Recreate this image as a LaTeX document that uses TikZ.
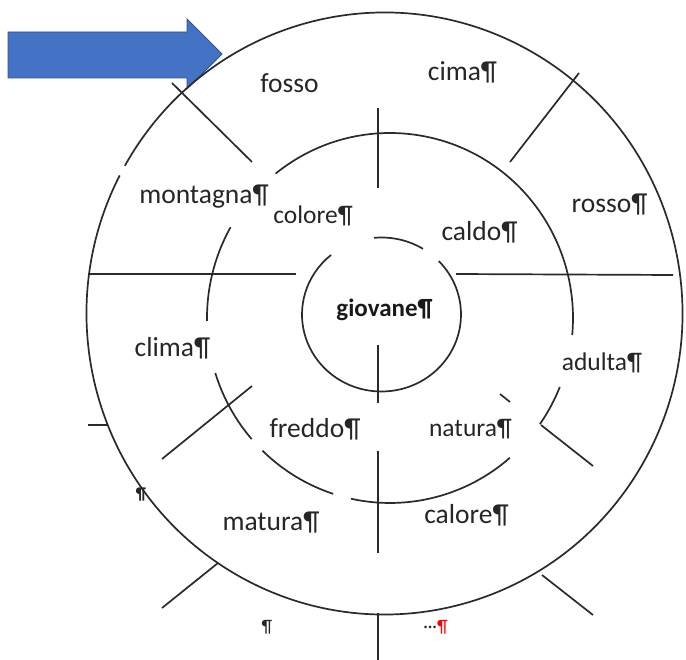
\documentclass[tikz,border=0pt]{standalone}
\usepackage{fontspec}
\setmainfont{Carlito}
\definecolor{arrowblue}{HTML}{4472C4}
\definecolor{arrowedge}{HTML}{2F528F}
\definecolor{inkline}{HTML}{2A2A2A}
\begin{document}
\begin{tikzpicture}[x=1pt,y=-1pt,
  ring/.style={draw=inkline,line width=1.7pt},
  sep/.style={draw=inkline,line width=1.7pt},
  big/.style={inner sep=0pt,anchor=base,text=black!85,font=\fontsize{27.5}{30}\selectfont},
  small/.style={inner sep=0pt,anchor=base,text=black!85,font=\fontsize{25.5}{28}\selectfont},
  centre/.style={inner sep=0pt,anchor=base,text=black!90,font=\fontsize{25}{28}\selectfont\bfseries},
  pilc/.style={inner sep=0pt,anchor=base,text=black!85,font=\fontsize{18}{20}\selectfont}]
\useasboundingbox (0,0) rectangle (686,660);
% blue block arrow
\draw[fill=arrowblue,draw=arrowedge,line width=0.8pt]
  (8,32) -- (187,32) -- (187,19) -- (222,54) -- (187,89) -- (187,78) -- (8,78) -- cycle;
% centres of the rings
\coordinate (co) at (384.5,313.5);
\coordinate (cm) at (390,318);
\coordinate (ci) at (381.5,314.5);
% outer ring (small gap upper left)
\draw[ring] (co) ++(-150.6:298 and 301) arc[start angle=-150.6,end angle=207.3,x radius=298,y radius=301];
% middle ring segments
\draw[ring] (cm) ++(-128.7:183 and 185) arc[start angle=-128.7,end angle=5.3,x radius=183,y radius=185];
\draw[ring] (cm) ++(21.9:183 and 185) arc[start angle=21.9,end angle=35,x radius=183,y radius=185];
\draw[ring] (cm) ++(49.1:183 and 185) arc[start angle=49.1,end angle=102.3,x radius=183,y radius=185];
\draw[ring] (cm) ++(108.1:183 and 185) arc[start angle=108.1,end angle=134.2,x radius=183,y radius=185];
\draw[ring] (cm) ++(139.1:183 and 185) arc[start angle=139.1,end angle=162.7,x radius=183,y radius=185];
\draw[ring] (cm) ++(179.1:183 and 185) arc[start angle=179.1,end angle=209.4,x radius=183,y radius=185];
% inner ring segments
\draw[ring] (ci) ++(-95.3:79.5 and 77) arc[start angle=-95.3,end angle=-58.5,x radius=79.5,y radius=77];
\draw[ring] (ci) ++(-43.9:79.5 and 77) arc[start angle=-43.9,end angle=230.6,x radius=79.5,y radius=77];
% separating strokes
\coordinate (a1) at (378,108); \coordinate (a2) at (378,188);
\coordinate (b1) at (579,73);  \coordinate (b2) at (510,162);
\coordinate (c1) at (172,83);  \coordinate (c2) at (252,162);
\coordinate (d1) at (88,274);  \coordinate (d2) at (296,274);
\coordinate (e1) at (456,274); \coordinate (e2) at (673,275);
\coordinate (f1) at (378,345); \coordinate (f2) at (378,403);
\coordinate (g1) at (378,451); \coordinate (g2) at (378,553);
\coordinate (h1) at (378,613); \coordinate (h2) at (378,660);
\coordinate (i1) at (252,386); \coordinate (i2) at (162,459);
\coordinate (j1) at (88,425);  \coordinate (j2) at (107,425);
\coordinate (k1) at (218,563); \coordinate (k2) at (162,608);
\coordinate (l1) at (542,575); \coordinate (l2) at (593,615);
\coordinate (m1) at (541,425); \coordinate (m2) at (593,466);
\coordinate (n1) at (500,394); \coordinate (n2) at (510,402);
\foreach \p in {a,b,c,d,e,f,g,h,i,j,k,l,m,n} \draw[sep] (\p1) -- (\p2);
% labels
\node[big]   (fosso)    at (289.5,93)  {fosso};
\node[big]   (cima)     at (462.5,81)  {cima¶};
\node[big]   (montagna) at (204,204)   {montagna¶};
\node[small] (colore)   at (313,224)   {colore¶};
\node[big]   (caldo)    at (479.5,241) {caldo¶};
\node[big]   (rosso)    at (609.5,213) {rosso¶};
\node[centre](giovane)  at (384.5,317) {giovane¶};
\node[big]   (clima)    at (172.5,357) {clima¶};
\node[small] (adulta)   at (602,371)   {adulta¶};
\node[big]   (freddo)   at (315,438)   {freddo¶};
\node[small] (natura)   at (470.5,437) {natura¶};
\node[big]   (matura)   at (271,530)   {matura¶};
\node[big]   (calore)   at (466.5,523) {calore¶};
\node[pilc,font=\fontsize{17}{19}\selectfont\bfseries] (p1) at (141,500) {¶};
\node[pilc]  (p2) at (267,632) {¶};
\node[pilc]  (p3) at (435.5,632) {···\textcolor{red}{¶}};
\end{tikzpicture}
\end{document}
